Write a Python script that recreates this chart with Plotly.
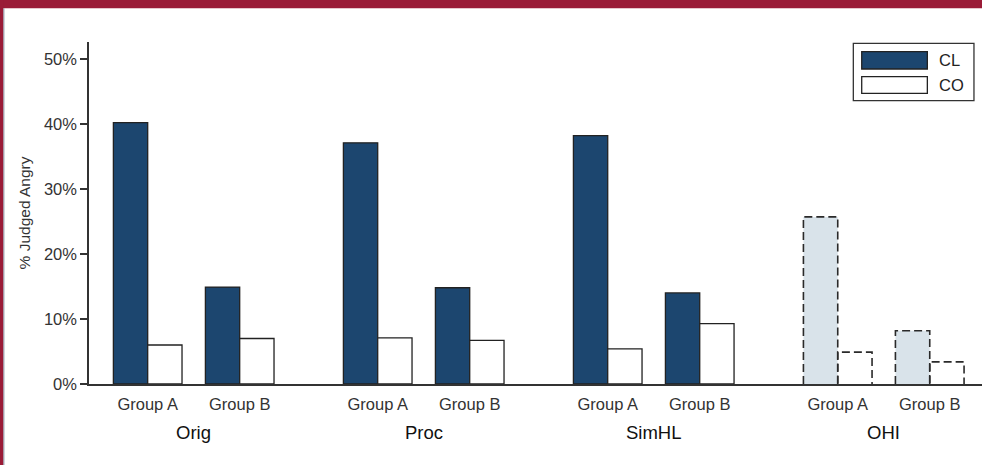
import plotly.graph_objects as go

# Conditions and participant groups
clusters = ["Orig", "Proc", "SimHL", "OHI"]
groups = ["Group A", "Group B"]

# % of faces judged angry, per condition, for each group
cl_group_a = [40.2, 37.1, 38.2, 25.7]
cl_group_b = [14.9, 14.8, 14.0, 8.2]
co_group_a = [6.0, 7.1, 5.4, 4.9]
co_group_b = [7.0, 6.7, 9.3, 3.4]

y_ticks = [0, 10, 20, 30, 40, 50]
y_tick_labels = ["0%", "10%", "20%", "30%", "40%", "50%"]

# layout constants
CLUSTER_STEP = 2.5   # distance between condition clusters (x units)
GROUP_STEP = 1.0     # distance between Group A and Group B within a cluster
BAR_W = 0.373        # width of a single bar
NAVY = "#1c466f"
OHI_FILL = "#d9e3ea"
EDGE = "#222222"
MAROON = "#9a1b37"
FONT = "Liberation Sans, Arial, sans-serif"

def centre(ci, gi):
    return ci * CLUSTER_STEP + gi * GROUP_STEP

# flatten into bar lists (solid conditions vs. the dashed OHI condition)
solid_x, solid_cl, solid_co = [], [], []
ohi_x, ohi_cl, ohi_co = [], [], []
for ci, name in enumerate(clusters):
    for gi, (cl_vals, co_vals) in enumerate([(cl_group_a, co_group_a), (cl_group_b, co_group_b)]):
        x = centre(ci, gi)
        if name == "OHI":
            ohi_x.append(x); ohi_cl.append(cl_vals[ci]); ohi_co.append(co_vals[ci])
        else:
            solid_x.append(x); solid_cl.append(cl_vals[ci]); solid_co.append(co_vals[ci])

fig = go.Figure()

fig.add_trace(go.Bar(x=solid_x, y=solid_cl, width=BAR_W, offset=-BAR_W, name="CL",
                     marker=dict(color=NAVY, line=dict(color=EDGE, width=1.3)),
                     showlegend=False, hoverinfo="y"))
fig.add_trace(go.Bar(x=solid_x, y=solid_co, width=BAR_W, offset=0, name="CO",
                     marker=dict(color="white", line=dict(color=EDGE, width=1.3)),
                     showlegend=False, hoverinfo="y"))
fig.add_trace(go.Bar(x=ohi_x, y=ohi_cl, width=BAR_W, offset=-BAR_W, name="CL",
                     marker=dict(color=OHI_FILL, line=dict(width=0)),
                     showlegend=False, hoverinfo="y"))
fig.add_trace(go.Bar(x=ohi_x, y=ohi_co, width=BAR_W, offset=0, name="CO",
                     marker=dict(color="white", line=dict(width=0)),
                     showlegend=False, hoverinfo="y"))

# dashed outlines for the OHI bars, traced from the same values
def outline(xs, vals, left_off):
    px, py = [], []
    for x, v in zip(xs, vals):
        l = x + left_off
        r = l + BAR_W
        px += [l, l, r, r, None]
        py += [0, v, v, 0, None]
    return px, py

for vals, off in [(ohi_cl, -BAR_W), (ohi_co, 0)]:
    ox, oy = outline(ohi_x, vals, off)
    fig.add_trace(go.Scatter(x=ox, y=oy, mode="lines", showlegend=False, hoverinfo="skip",
                             line=dict(color="#2a2a2a", width=1.6, dash="8px,4px")))

tick_x = [centre(ci, gi) for ci in range(len(clusters)) for gi in range(len(groups))]
tick_text = [g for _ in clusters for g in groups]

fig.update_layout(
    width=982, height=465,
    margin=dict(l=89, r=0, t=42, b=81),
    paper_bgcolor="white", plot_bgcolor="white",
    font=dict(family=FONT, color="#333333"),
    barmode="overlay",
    showlegend=False,
)
fig.update_xaxes(
    range=[-0.638, 9.068], showgrid=False, zeroline=False,
    showline=True, linecolor="#333333", linewidth=1.5,
    tickvals=tick_x, ticktext=tick_text, ticks="",
    tickfont=dict(size=16.5, color="#333333", family=FONT),
    ticklabelstandoff=4,
)
fig.update_yaxes(
    range=[0, 52.6], showgrid=False, zeroline=False,
    showline=True, linecolor="#333333", linewidth=1.5,
    tickvals=y_ticks, ticktext=y_tick_labels, ticks="outside", ticklen=7, tickwidth=1.5,
    tickcolor="#333333",
    tickfont=dict(size=16.5, color="#333333", family=FONT),
    title=dict(text="% Judged Angry", font=dict(size=15.5, color="#333333", family=FONT),
               standoff=9),
)

# condition names beneath each pair of group labels
for ci, name in enumerate(clusters):
    fig.add_annotation(x=centre(ci, 0.5), y=-0.1404, xref="x", yref="paper",
                       text=name, showarrow=False, yanchor="middle",
                       font=dict(size=18.5, color="#111111", family=FONT))

# legend box with wide swatches
shapes = [
    dict(type="rect", xref="paper", yref="paper", x0=0.8559, x1=0.9910, y0=0.8284, y1=0.9962,
         line=dict(color="#333333", width=1.3), fillcolor="white", layer="above"),
    dict(type="rect", xref="paper", yref="paper", x0=0.8653, x1=0.9388, y0=0.9211, y1=0.9716,
         line=dict(color=EDGE, width=1.3), fillcolor=NAVY, layer="above"),
    dict(type="rect", xref="paper", yref="paper", x0=0.8653, x1=0.9388, y0=0.8500, y1=0.8985,
         line=dict(color=EDGE, width=1.3), fillcolor="white", layer="above"),
]
for label, yc in [("CL", 0.9465), ("CO", 0.8743)]:
    fig.add_annotation(x=0.9499, y=yc, xref="paper", yref="paper", text=label,
                       showarrow=False, xanchor="left", yanchor="middle",
                       font=dict(size=16.5, color="#222222", family=FONT))

# page frame: maroon band along the top and left edge
shapes += [
    dict(type="rect", xref="paper", yref="paper", x0=-0.0997, x1=1.0, y0=1.0985, y1=1.13,
         line=dict(width=0), fillcolor=MAROON, layer="above"),
    dict(type="rect", xref="paper", yref="paper", x0=-0.0997, x1=-0.0958, y0=-0.24, y1=1.13,
         line=dict(width=0), fillcolor=MAROON, layer="above"),
    dict(type="line", xref="paper", yref="paper", x0=-0.0953, x1=-0.0953, y0=-0.24, y1=1.0985,
         line=dict(color="#8c98a6", width=1), layer="above"),
]
fig.update_layout(shapes=shapes)

fig.write_html("out.html")
